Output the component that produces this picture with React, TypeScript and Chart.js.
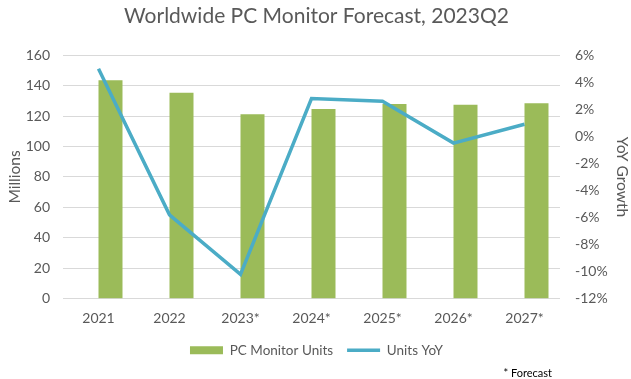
import React, { useEffect, useRef } from "react";
import { Chart, registerables } from "chart.js";

Chart.register(...registerables);

const categories = ["2021", "2022", "2023*", "2024*", "2025*", "2026*", "2027*"];
const monitorUnits = [143.5, 135.3, 121.2, 124.7, 128.0, 127.4, 128.5];
const unitsYoY = [5.0, -5.8, -10.2, 2.8, 2.6, -0.5, 0.9];
const leftTicks = [0, 20, 40, 60, 80, 100, 120, 140, 160];
const rightTicks = [-12, -10, -8, -6, -4, -2, 0, 2, 4, 6];
const footnote = "* Forecast";

const FONT = "Lato, 'Open Sans', sans-serif";
const GRAY = "#595959";

const footnotePlugin = {
  id: "footnote",
  afterDraw(chart: any) {
    const c = chart.ctx;
    c.save();
    c.font = `11px ${FONT}`;
    c.fillStyle = "#000";
    c.textAlign = "right";
    c.textBaseline = "middle";
    c.fillText(footnote, chart.width - 79, chart.height - 6);
    c.restore();
  },
};

export default function App() {
  const ref = useRef<HTMLCanvasElement | null>(null);
  useEffect(() => {
    document.body.style.margin = "0";
    const ctx = ref.current!;
    const chart = new Chart(ctx, {
      data: {
        labels: categories,
        datasets: [
          {
            type: "line",
            label: "Units YoY",
            data: unitsYoY,
            yAxisID: "y1",
            borderColor: "#4BACC6",
            backgroundColor: "#4BACC6",
            borderWidth: 3.5,
            pointRadius: 0,
            pointStyle: "line",
            tension: 0,
            order: 0,
          } as any,
          {
            type: "bar",
            label: "_spacer",
            data: categories.map(() => null),
            yAxisID: "y",
            backgroundColor: "rgba(0,0,0,0)",
            categoryPercentage: 0.676,
            barPercentage: 1,
            order: 1,
          } as any,
          {
            type: "bar",
            label: "PC Monitor Units",
            data: monitorUnits,
            yAxisID: "y",
            backgroundColor: "#9BBB59",
            borderWidth: 0,
            pointStyle: "rect",
            categoryPercentage: 0.676,
            barPercentage: 1,
            order: 2,
          } as any,
        ],
      },
      plugins: [footnotePlugin],
      options: {
        responsive: false,
        animation: false,
        layout: { padding: { left: 2, right: 0, top: 4, bottom: 12 } },
        plugins: {
          title: {
            display: true,
            text: "Worldwide PC Monitor Forecast, 2023Q2",
            color: GRAY,
            font: { family: FONT, size: 21, weight: "normal" },
            padding: { top: 0, bottom: 26 },
          },
          legend: {
            position: "bottom",
            reverse: true,
            labels: {
              filter: (item: any) => item.text !== "_spacer",
              usePointStyle: true,
              pointStyleWidth: 33,
              boxHeight: 8,
              color: GRAY,
              padding: 14,
              font: { family: FONT, size: 13.5 },
            },
          },
          tooltip: { enabled: false },
        },
        scales: {
          x: {
            grid: { display: false },
            border: { display: false },
            ticks: { color: GRAY, font: { family: FONT, size: 14 }, padding: 3 },
          },
          y: {
            position: "left",
            min: 0,
            max: 160,
            afterBuildTicks: (axis: any) => {
              axis.ticks = leftTicks.map((v) => ({ value: v }));
            },
            afterFit: (axis: any) => {
              axis.width = 61;
            },
            grid: { color: "#d9d9d9", drawTicks: false },
            border: { display: false },
            ticks: { color: GRAY, font: { family: FONT, size: 14 }, padding: 13 },
            title: {
              display: true,
              text: "Millions",
              color: GRAY,
              font: { family: FONT, size: 15.5 },
              padding: 4,
            },
          },
          y1: {
            position: "right",
            min: -12,
            max: 6,
            afterBuildTicks: (axis: any) => {
              axis.ticks = rightTicks.map((v) => ({ value: v }));
            },
            afterFit: (axis: any) => {
              axis.width = 71;
            },
            grid: { display: false },
            border: { display: false },
            ticks: {
              color: GRAY,
              font: { family: FONT, size: 14 },
              padding: 7,
              callback: (v: any) => `${v}%`,
            },
            title: {
              display: true,
              text: "YoY Growth",
              color: GRAY,
              font: { family: FONT, size: 15.5 },
              padding: 0,
            },
          },
        },
      } as any,
    });
    return () => chart.destroy();
  }, []);
  return (
    <div style={{ position: "fixed", left: 0, top: 0, width: 631, height: 379, background: "#fff" }}>
      <canvas ref={ref} width={631} height={379} />
    </div>
  );
}
